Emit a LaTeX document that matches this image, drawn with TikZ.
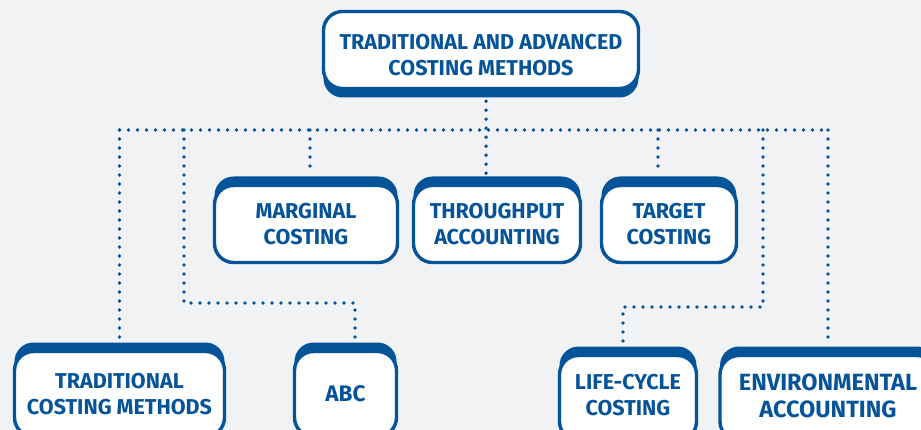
\documentclass[tikz,border=0pt]{standalone}
\usepackage{fontspec}
\setmainfont{Fira Sans}
\usetikzlibrary{shadows}
\definecolor{boxblue}{HTML}{05549A}
\definecolor{pagegrey}{HTML}{F1F2F4}
\tikzset{x=1pt, y=-1pt,
  box/.style={draw=boxblue, line width=3.4pt, fill=white, rounded corners=19pt,
    text=boxblue, font=\bfseries\fontsize{21.5}{26}\selectfont, align=center,
    inner sep=0pt, minimum height=77pt},
  upbox/.style={box, general shadow={fill=boxblue, shadow yshift=9pt}},
  downbox/.style={box, general shadow={fill=boxblue, shadow yshift=-9pt}},
  dots/.style={draw=boxblue, line width=3.9pt, line cap=round, dash pattern=on 0pt off 9pt}}

\begin{document}
\begin{tikzpicture}
   \useasboundingbox (0,0) rectangle (921,430);
   \fill[pagegrey] (0,0) rectangle (921,430);
   \clip (0,0) rectangle (921,430);
   % top row
   \node(1) [downbox, minimum width=315pt, text height=52pt, text depth=0pt] at (481,50) {TRADITIONAL AND ADVANCED\\COSTING METHODS};
   % middle row
   \node(2) [upbox, minimum width=183pt] at (306,224) {MARGINAL\\COSTING};
   \node(3) [upbox, minimum width=167pt] at (497,224) {THROUGHPUT\\ACCOUNTING};
   \node(4) [upbox, minimum width=135pt] at (669,224) {TARGET\\COSTING};
   % bottom row
   \node(5) [upbox, minimum width=210pt, minimum height=85pt] at (119.5,394) {TRADITIONAL\\COSTING METHODS};
   \node(6) [upbox, minimum width=102pt, minimum height=85pt, font=\bfseries\fontsize{22.5}{26}\selectfont] at (345.5,394) {ABC};
   \node(7) [upbox, minimum width=137pt, minimum height=85pt, text depth=6pt] at (628,398) {LIFE-CYCLE\\COSTING};
   \node(8) [upbox, minimum width=216pt, minimum height=85pt, text depth=5pt, font=\bfseries\fontsize{23.5}{27}\selectfont] at (828,398) {ENVIRONMENTAL\\ACCOUNTING};
   % dotted connectors
   \coordinate (bus) at (0,130);
   \coordinate (abc) at (184,303);
   \coordinate (life) at (763,307);
   \draw[dots] ([xshift=5,yshift=-11]1.south) -- ([xshift=5,yshift=9]1.south |- 3.north);
   \draw[dots] (5.north |- bus) -- (8.north |- bus);
   \draw[dots] (5.north |- bus) -- ([yshift=9]5.north);
   \draw[dots] ([xshift=4]2.north |- bus) -- ([xshift=4,yshift=9]2.north);
   \draw[dots] ([xshift=-11]4.north |- bus) -- ([xshift=-11,yshift=9]4.north);
   \draw[dots] (8.north |- bus) -- ([yshift=9]8.north);
   \draw[dots] (abc |- bus) -- (abc) -| ([xshift=9.5,yshift=9]6.north);
   \draw[dots] (life |- bus) -- (life) -| ([xshift=-5,yshift=9]7.north);
\end{tikzpicture}
\end{document}
